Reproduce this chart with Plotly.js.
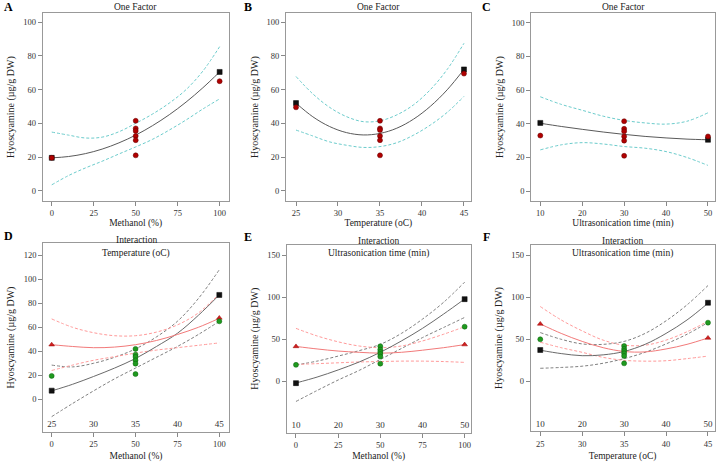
<!DOCTYPE html>
<html><head><meta charset="utf-8">
<script src="https://cdn.plot.ly/plotly-3.0.1.min.js"></script>
<style>html,body{margin:0;padding:0;background:#fff}#chart{width:719px;height:462px}</style>
</head><body><div id="chart"></div>
<script>
// ---------- DATA ----------
// Panel A: Methanol (%) one factor
const A_obsX = [0, 50, 50, 50, 50, 50, 50, 100];
const A_obsY = [19.5, 41.5, 37, 35.5, 32.5, 30, 21, 65];
const A_predX = [0, 100];
const A_predY = [19.5, 70.5];
const A_gridX = [0, 10, 20, 30, 40, 50, 60, 70, 80, 90, 100];
const A_fit = [19.5, 20.3, 22.0, 24.7, 28.4, 33.0, 38.6, 45.1, 52.6, 61.1, 70.5];
const A_upper = [34.8, 33, 31.3, 31.8, 35, 40, 45.5, 52, 60, 71, 85.5];
const A_lower = [3.5, 9, 13.5, 17.5, 21.8, 26, 30.5, 36, 42, 48.5, 54.5];

// Panel B: Temperature (oC) one factor
const B_obsX = [25, 35, 35, 35, 35, 35, 35, 45];
const B_obsY = [49.5, 41.5, 37, 36, 32.5, 30, 21, 69.5];
const B_predX = [25, 45];
const B_predY = [52, 72];
const B_gridX = [25, 27, 29, 31, 33, 35, 37, 39, 41, 43, 45];
const B_fit = [52, 43.9, 38.1, 34.5, 33.1, 34, 37.1, 42.5, 50.1, 59.9, 72];
const B_upper = [67.8, 57.5, 49.5, 44, 41, 41.5, 45, 51, 60, 72, 87.5];
const B_lower = [36, 32.5, 29, 27, 25.7, 26.2, 28.5, 33, 39, 46.5, 56];

// Panel C: Ultrasonication time (min) one factor
const C_obsX = [10, 30, 30, 30, 30, 30, 30, 50];
const C_obsY = [33, 41.5, 37, 35.5, 32.5, 30, 21, 32.5];
const C_predX = [10, 50];
const C_predY = [40.5, 30.5];
const C_gridX = [10, 15, 20, 25, 30, 35, 40, 45, 50];
const C_fit = [40.3, 38.4, 36.7, 35.1, 33.7, 32.5, 31.6, 30.9, 30.5];
const C_upper = [56, 51.5, 48, 44.5, 42, 40.5, 39.8, 41.5, 46.5];
const C_lower = [24.5, 27.5, 28.8, 28, 26.5, 25.5, 23.5, 20, 15.3];

// Panel D: Methanol x Temperature interaction
const D_greenX = [0, 50, 50, 50, 50, 50, 50, 100];
const D_greenY = [19.5, 42, 37.2, 35.3, 32.5, 29.7, 21, 65];
const D_blackX = [0, 100];
const D_blackY = [7.2, 87];
const D_redX = [0, 100];
const D_redY = [45.5, 67.8];
const D_gridX = [0, 12.5, 25, 37.5, 50, 62.5, 75, 87.5, 100];
const D_blackFit = [7, 12.5, 19, 26, 34, 44, 55, 70, 87];
const D_blackUp = [28.5, 27, 30, 35, 42, 52, 65, 84, 108];
const D_blackLo = [-14.5, -3.5, 7, 17, 26, 35, 44, 54, 65];
const D_redFit = [45.5, 44, 43, 43.5, 45.5, 49, 54, 60, 67.5];
const D_redUp = [67, 60, 55.5, 53, 53, 56, 62, 72, 88];
const D_redLo = [24, 28.5, 32.5, 35.5, 38.5, 41, 43, 45, 47];
const D_innerTicks = [25, 30, 35, 40, 45];

// Panel E: Methanol x Ultrasonication interaction
const E_greenX = [0, 50, 50, 50, 50, 50, 50, 100];
const E_greenY = [19.6, 41.7, 37.7, 35, 32.5, 29.4, 21, 65];
const E_blackX = [0, 100];
const E_blackY = [-2.2, 97.8];
const E_redX = [0, 100];
const E_redY = [41.5, 43.7];
const E_gridX = [0, 12.5, 25, 37.5, 50, 62.5, 75, 87.5, 100];
const E_blackFit = [-2, 5, 13.5, 23, 34.5, 48, 63, 80, 98];
const E_blackUp = [19.5, 24, 30, 36.5, 44, 57, 74, 94, 118];
const E_blackLo = [-24, -11, 1.5, 13, 26, 39, 52, 64, 76];
const E_redFit = [41.5, 38.5, 36, 34.5, 33.5, 34.5, 37, 40, 43.7];
const E_redUp = [63, 54, 47, 42, 40, 42, 48, 56, 65];
const E_redLo = [20, 21, 22, 23, 23.5, 24, 24, 23.5, 22.5];
const E_innerTicks = [10, 20, 30, 40, 50];

// Panel F: Temperature x Ultrasonication interaction
const F_greenX = [25, 35, 35, 35, 35, 35, 35, 45];
const F_greenY = [50, 42, 38.5, 36, 33.3, 30.2, 21.4, 69.8];
const F_blackX = [25, 45];
const F_blackY = [37.3, 93.5];
const F_redX = [25, 45];
const F_redY = [68.3, 51.6];
const F_gridX = [25, 27.5, 30, 32.5, 35, 37.5, 40, 42.5, 45];
const F_blackFit = [37, 33, 30.5, 31.5, 35.5, 44, 57, 73, 93];
const F_blackUp = [58, 50, 44.5, 44, 47.5, 57, 72, 91, 114];
const F_blackLo = [15.5, 16.5, 18, 21.5, 27, 34.5, 44.5, 56, 70];
const F_redFit = [68.3, 57, 47.5, 40, 35.5, 35, 38.5, 44, 51.6];
const F_redUp = [89, 73, 60, 49, 43, 43, 49, 59, 71.5];
const F_redLo = [46.5, 40, 34.5, 28.5, 25, 24, 24.5, 27, 30];
const F_innerTicks = [10, 20, 30, 40, 50];

const yTitle = 'Hyoscyamine (µg/g DW)';
const xTitles = ['Methanol (%)', 'Temperature (oC)', 'Ultrasonication time (min)', 'Methanol (%)', 'Methanol (%)', 'Temperature (oC)'];
const panelLetters = ['A', 'B', 'C', 'D', 'E', 'F'];
const panelTitles = ['One Factor', 'One Factor', 'One Factor', 'Interaction', 'Interaction', 'Interaction'];
const innerTitles = ['Temperature (oC)', 'Ultrasonication time (min)', 'Ultrasonication time (min)'];

// ---------- STYLE ----------
const FONT = '"Liberation Serif", "Times New Roman", serif';
const FIT = '#5a5a5a', CI = '#6ccccc';
const DARK = '#6a6a6a', DARKD = '#808080', RED = '#f27a7a', REDD = '#ff9a9a';
const DASH = '3px,2px';

const traces = [];
function line(ax, x, y, color, dash, w) {
  traces.push({type: 'scatter', mode: 'lines', x: x, y: y, xaxis: 'x' + ax, yaxis: 'y' + ax,
    line: {color: color, width: w || 1, dash: dash || 'solid', shape: 'spline', smoothing: 1},
    hoverinfo: 'skip', showlegend: false});
}
function pts(ax, x, y, symbol, color, lc, size) {
  traces.push({type: 'scatter', mode: 'markers', x: x, y: y, xaxis: 'x' + ax, yaxis: 'y' + ax,
    marker: {symbol: symbol, color: color, size: size || 5, line: {color: lc, width: 0.5}}, showlegend: false});
}
function one(ax, gx, fit, up, lo, px, py, ox, oy) {
  line(ax, gx, up, CI, DASH);
  line(ax, gx, lo, CI, DASH);
  line(ax, gx, fit, FIT, 'solid');
  pts(ax, px, py, 'square', '#111', '#000', 5);
  pts(ax, ox, oy, 'circle', '#b00000', '#600000', 5);
}
function inter(ax, gx, bf, bu, bl, rf, ru, rl, bx, by, rx, ry, gxp, gyp) {
  line(ax, gx, bu, DARKD, DASH);
  line(ax, gx, bl, DARKD, DASH);
  line(ax, gx, ru, REDD, DASH);
  line(ax, gx, rl, REDD, DASH);
  line(ax, gx, bf, DARK, 'solid');
  line(ax, gx, rf, RED, 'solid');
  pts(ax, bx, by, 'square', '#111', '#000', 5);
  pts(ax, rx, ry, 'triangle-up', '#d02020', '#900', 5);
  pts(ax, gxp, gyp, 'circle', '#1f9a1f', '#0a600a', 5);
}
one('', A_gridX, A_fit, A_upper, A_lower, A_predX, A_predY, A_obsX, A_obsY);
one('2', B_gridX, B_fit, B_upper, B_lower, B_predX, B_predY, B_obsX, B_obsY);
one('3', C_gridX, C_fit, C_upper, C_lower, C_predX, C_predY, C_obsX, C_obsY);
inter('4', D_gridX, D_blackFit, D_blackUp, D_blackLo, D_redFit, D_redUp, D_redLo, D_blackX, D_blackY, D_redX, D_redY, D_greenX, D_greenY);
inter('5', E_gridX, E_blackFit, E_blackUp, E_blackLo, E_redFit, E_redUp, E_redLo, E_blackX, E_blackY, E_redX, E_redY, E_greenX, E_greenY);
inter('6', F_gridX, F_blackFit, F_blackUp, F_blackLo, F_redFit, F_redUp, F_redLo, F_blackX, F_blackY, F_redX, F_redY, F_greenX, F_greenY);
// invisible traces on the inner (second factor) axes
[['7', '4', D_innerTicks], ['8', '5', E_innerTicks], ['9', '6', F_innerTicks]].forEach(function (a) {
  traces.push({type: 'scatter', mode: 'markers', x: a[2], y: a[2].map(function () { return null; }),
    xaxis: 'x' + a[0], yaxis: 'y' + a[1], showlegend: false, hoverinfo: 'skip'});
});

// ---------- LAYOUT ----------
const W = 719, H = 462;
function dx(l, r) { return [l / W, r / W]; }
function dy(t, b) { return [1 - b / H, 1 - t / H]; }
const tickFont = {family: FONT, size: 8.5, color: '#333'};
const titleFont = {family: FONT, size: 9.5, color: '#222'};
const yTitleFont = {family: FONT, size: 10, color: '#222'};
function xa(domain, range, tickvals, anchor, title, so) {
  return {domain: domain, range: range, anchor: anchor, tickvals: tickvals, ticks: 'outside', ticklen: 4, tickcolor: '#888',
    showline: true, linecolor: '#999', linewidth: 1, mirror: true, showgrid: false, zeroline: false,
    tickfont: tickFont, title: {text: title, font: titleFont, standoff: so}};
}
function ya(domain, range, tickvals, anchor) {
  return {domain: domain, range: range, anchor: anchor, tickvals: tickvals, ticks: 'outside', ticklen: 4, tickcolor: '#888',
    showline: true, linecolor: '#999', linewidth: 1, mirror: true, showgrid: false, zeroline: false,
    tickfont: tickFont, title: {text: yTitle, font: yTitleFont, standoff: 6}};
}
function inner(over, anchor, range, tickvals) {
  return {overlaying: over, anchor: anchor, side: 'bottom', range: range, tickvals: tickvals, ticks: '',
    ticklabelposition: 'inside', showline: false, showgrid: false, zeroline: false,
    tickfont: {family: FONT, size: 9, color: '#333'}};
}
const top1 = dy(13.3, 201), top2a = dy(243, 432), top2b = dy(244.7, 432.7), top2c = dy(244.7, 431.3);
const layout = {
  width: W, height: H, margin: {l: 0, r: 0, t: 0, b: 0}, paper_bgcolor: '#fff', plot_bgcolor: '#fff',
  showlegend: false, font: {family: FONT},
  xaxis: xa(dx(42.7, 228.7), [-5.4, 105.4], [0, 25, 50, 75, 100], 'y', xTitles[0], 0),
  yaxis: ya(top1, [-6.1, 105.3], [0, 20, 40, 60, 80, 100], 'x'),
  xaxis2: xa(dx(286, 470.7), [23.81, 45.8], [25, 30, 35, 40, 45], 'y2', xTitles[1], 0),
  yaxis2: ya(top1, [-6.1, 105.3], [0, 20, 40, 60, 80, 100], 'x2'),
  xaxis3: xa(dx(531.3, 714.7), [7.85, 51.6], [10, 20, 30, 40, 50], 'y3', xTitles[2], 0),
  yaxis3: ya(top1, [-5.8, 105.5], [0, 20, 40, 60, 80, 100], 'x3'),
  xaxis4: xa(dx(43.3, 228.7), [-5.0, 105.6], [0, 25, 50, 75, 100], 'y4', xTitles[3], 6),
  yaxis4: ya(top2a, [-27.3, 130.3], [-20, 0, 20, 40, 60, 80, 100, 120], 'x4'),
  xaxis5: xa(dx(286.7, 470.7), [-5.5, 103.6], [0, 25, 50, 75, 100], 'y5', xTitles[4], 6),
  yaxis5: ya(top2b, [-61.2, 162.6], [-50, 0, 50, 100, 150], 'x5'),
  xaxis6: xa(dx(530.7, 714.7), [23.86, 45.8], [25, 30, 35, 40, 45], 'y6', xTitles[5], 6),
  yaxis6: ya(top2c, [-59.5, 162.6], [-50, 0, 50, 100, 150], 'x6'),
  xaxis7: inner('x4', 'y4', [24.0, 46.12], D_innerTicks),
  xaxis8: inner('x5', 'y5', [7.8, 51.44], E_innerTicks),
  xaxis9: inner('x6', 'y6', [7.72, 51.6], F_innerTicks),
  annotations: []
};
const letterPos = [[8, 7], [248, 7], [486, 7], [8, 236], [248, 237], [486, 237]];
const titlePos = [[135.7, 7], [378.3, 7], [623, 7], [136, 240], [378.7, 241], [622.7, 241]];
for (let i = 0; i < 6; i++) {
  layout.annotations.push({xref: 'paper', yref: 'paper', x: letterPos[i][0] / W, y: 1 - letterPos[i][1] / H,
    text: '<b>' + panelLetters[i] + '</b>', showarrow: false, xanchor: 'center', yanchor: 'middle',
    font: {family: FONT, size: 12, color: '#000'}});
  layout.annotations.push({xref: 'paper', yref: 'paper', x: titlePos[i][0] / W, y: 1 - titlePos[i][1] / H,
    text: panelTitles[i], showarrow: false, xanchor: 'center', yanchor: 'middle',
    font: {family: FONT, size: 9.5, color: '#222'}});
}
const innerPos = [[136, 253], [378.7, 253], [622.7, 253]];
for (let i = 0; i < 3; i++) {
  layout.annotations.push({xref: 'paper', yref: 'paper', x: innerPos[i][0] / W, y: 1 - innerPos[i][1] / H,
    text: innerTitles[i], showarrow: false, xanchor: 'center', yanchor: 'middle',
    font: {family: FONT, size: 9.5, color: '#222'}});
}
Plotly.newPlot('chart', traces, layout, {staticPlot: true, displayModeBar: false});
</script></body></html>
